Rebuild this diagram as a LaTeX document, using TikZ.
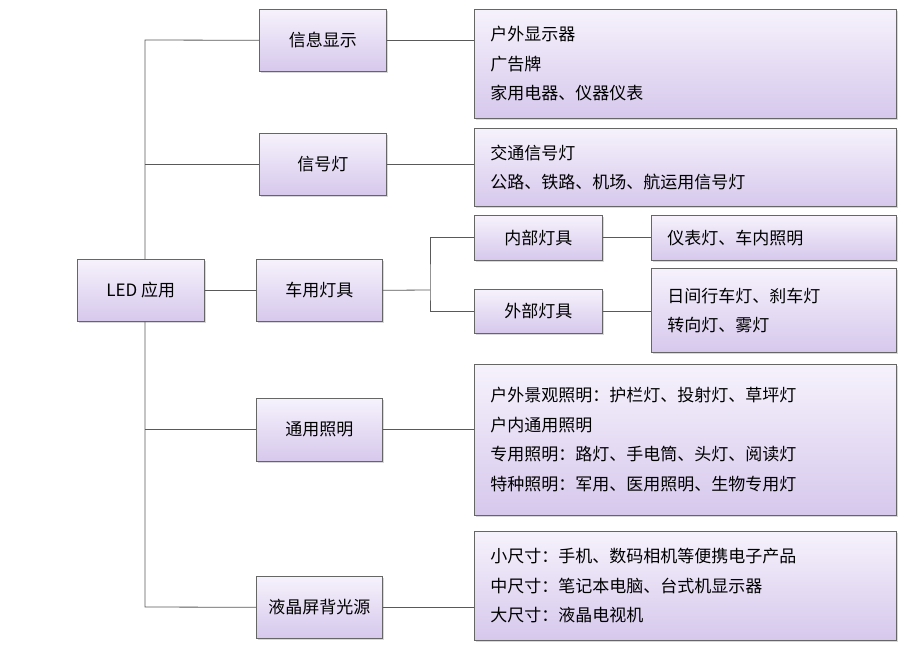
\documentclass[tikz,border=0pt]{standalone}
\usepackage{fontspec}
\setmainfont{Liberation Serif}
\newfontfamily\cjk{Noto Sans CJK SC}
\usetikzlibrary{shadows}
\definecolor{lavtop}{RGB}{246,242,252}
\definecolor{lavbot}{RGB}{214,200,236}
\begin{document}
\begin{tikzpicture}[x=1pt,y=-1pt,
  bx/.style={draw=gray!80!black,line width=0.6pt,top color=lavtop,bottom color=lavbot,
    drop shadow={shadow xshift=1.5pt,shadow yshift=-2pt,fill=gray!60},font=\cjk\fontsize{17}{29.5}\selectfont},
  ln/.style={draw=gray!70!black,line width=0.8pt}]
\useasboundingbox (0,0) rectangle (923,650);
\newcommand\bb[6]{\node[bx,minimum width=#3-#2,minimum height=#5-#4,inner sep=0pt,anchor=north west] (#1) at (#2,#4) {#6};}
\newcommand\tb[6]{\node[bx,minimum width=#3-#2,minimum height=#5-#4,inner sep=0pt,anchor=north west,text width=#3-#2-32,align=left] (#1) at (#2,#4) {#6};}
\bb{led}{77}{204}{259}{321}{LED 应用}
\bb{xx}{259}{386}{9}{71}{信息显示}
\bb{xh}{259}{386}{133}{195}{信号灯}
\bb{cy}{256}{382}{259}{321}{车用灯具}
\bb{ty}{256}{382}{398}{461}{通用照明}
\bb{yj}{256}{382}{576}{638}{液晶屏背光源}
\tb{r1}{474}{896}{9}{118}{户外显示器\\广告牌\\家用电器、仪器仪表}
\tb{r2}{474}{896}{128}{206}{交通信号灯\\公路、铁路、机场、航运用信号灯}
\bb{nb}{474}{602}{215}{260}{内部灯具}
\bb{wb}{474}{602}{289}{333}{外部灯具}
\tb{r3}{651}{896}{215}{260}{仪表灯、车内照明}
\tb{r4}{651}{896}{268}{352}{日间行车灯、刹车灯\\转向灯、雾灯}
\tb{r5}{474}{896}{364}{515}{户外景观照明：护栏灯、投射灯、草坪灯\\户内通用照明\\专用照明：路灯、手电筒、头灯、阅读灯\\特种照明：军用、医用照明、生物专用灯}
\tb{r6}{474}{896}{531}{640}{小尺寸：手机、数码相机等便携电子产品\\中尺寸：笔记本电脑、台式机显示器\\大尺寸：液晶电视机}
\coordinate (t1) at (145,40);
\coordinate (t2) at (145,607);
\draw[ln] (led.north -| t1) -- (t1) -- (xx.west);
\draw[ln] (led.south -| t1) -- (t2) -- (yj.west);
\draw[ln] (xh.west) -- (xh.west -| t1);
\draw[ln] (ty.west) -- (ty.west -| t1);
\draw[ln] (led) -- (cy);
\draw[ln] (xx.east) -- (xx.east -| r1.west);
\draw[ln] (xh.east) -- (xh.east -| r2.west);
\draw[ln] (ty.east) -- (ty.east -| r5.west);
\draw[ln] (yj.east) -- (yj.east -| r6.west);
\coordinate (v) at (430,290);
\draw[ln] (cy.east) -- (v);
\draw[ln] (nb.west) -| (v) |- (wb.west);
\draw[ln] (nb) -- (r3);
\draw[ln] (wb.east) -- (wb.east -| r4.west);
\end{tikzpicture}
\end{document}
